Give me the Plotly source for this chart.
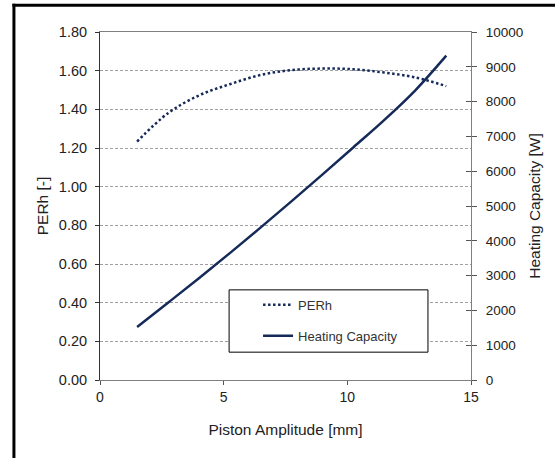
import plotly.graph_objects as go

# Data
amplitude_mm = [1.5, 2.75, 4.0, 5.25, 6.5, 7.75, 9.0, 10.25, 11.5, 12.75, 14.0]
perh = [1.233, 1.38, 1.472, 1.53, 1.578, 1.603, 1.611, 1.607, 1.59, 1.565, 1.52]
heating_w = [1520, 2220, 2925, 3645, 4385, 5140, 5910, 6690, 7475, 8325, 9320]

left_ticks = [0, 0.2, 0.4, 0.6, 0.8, 1.0, 1.2, 1.4, 1.6, 1.8]
right_ticks = [0, 1000, 2000, 3000, 4000, 5000, 6000, 7000, 8000, 9000, 10000]
right_labels = [str(v) for v in right_ticks]
x_ticks = [0, 5, 10, 15]

navy = "#152a58"
font = "Liberation Sans, Arial, sans-serif"

fig = go.Figure()
fig.add_trace(go.Scatter(
    x=amplitude_mm, y=perh, name="PERh", mode="lines",
    line=dict(color=navy, width=2.5, dash="2.5px,2.5px", shape="spline"),
    yaxis="y", legendgroup="a"))
fig.add_trace(go.Scatter(
    x=amplitude_mm, y=heating_w, name="Heating Capacity", mode="lines",
    line=dict(color=navy, width=2.5, shape="spline"),
    yaxis="y2", legendgroup="b"))
# dummy trace to activate yaxis3 (crossing ticks on the right axis)
fig.add_trace(go.Scatter(x=[None], y=[None], yaxis="y3", showlegend=False,
                         hoverinfo="skip"))

fig.update_layout(
    width=555, height=458,
    margin=dict(l=100, r=84, t=32, b=78, autoexpand=False),
    paper_bgcolor="white", plot_bgcolor="white",
    font=dict(family=font, size=13, color="#222"),
    showlegend=True,
    legend=dict(x=0.426, y=0.259, xanchor="left", yanchor="top",
                bgcolor="rgba(0,0,0,0)", borderwidth=0,
                font=dict(size=13, color="#333"),
                traceorder="grouped", tracegroupgap=11),
    xaxis=dict(range=[0, 15], tickvals=x_ticks, showgrid=False, zeroline=False,
               showline=True, linecolor="#7f7f7f", linewidth=1, mirror=True,
               ticks="outside", ticklen=4, tickcolor="#555",
               tickfont=dict(size=14),
               title=dict(text="Piston Amplitude [mm]", standoff=20,
                          font=dict(size=15.5))),
    yaxis=dict(range=[0, 1.8], tickvals=left_ticks, tickformat=".2f",
               showgrid=True, gridcolor="#a0a0a0", griddash="3px,2px", gridwidth=1,
               zeroline=False, showline=True, linecolor="#333", linewidth=1,
               ticks="outside", ticklen=4, tickcolor="#333",
               tickfont=dict(size=14.5), ticklabelstandoff=5,
               title=dict(text="PERh [-]", standoff=6, font=dict(size=15.5))),
    yaxis2=dict(range=[0, 10000], tickvals=right_ticks, ticktext=right_labels,
                overlaying="y", side="right",
                showgrid=False, zeroline=False, showline=True, linecolor="#7f7f7f",
                linewidth=1, ticks="outside", ticklen=5, tickcolor="#555",
                tickfont=dict(size=13.5), ticklabelstandoff=6,
                title=dict(text="Heating Capacity [W]", standoff=6,
                           font=dict(size=15.5))),
    yaxis3=dict(range=[0, 10000], tickvals=right_ticks, overlaying="y", side="right",
                anchor="x", showgrid=False, zeroline=False, showline=False,
                ticks="inside", ticklen=5, tickcolor="#555", showticklabels=False),
    shapes=[
        # legend box (white, covers gridlines)
        dict(type="rect", xref="paper", yref="paper",
             x0=0.348, x1=0.884, y0=0.08, y1=0.259,
             line=dict(color="black", width=1), fillcolor="white", layer="above"),
        # outer chart frame: left and top edges
        dict(type="line", xref="paper", yref="paper",
             x0=-0.232, x1=-0.232, y0=-0.3, y1=1.081,
             line=dict(color="black", width=3)),
        dict(type="line", xref="paper", yref="paper",
             x0=-0.236, x1=1.3, y0=1.077, y1=1.077,
             line=dict(color="black", width=3)),
    ],
)

fig.write_html("out.html", config={"displayModeBar": False},
               post_script="document.body.style.margin='0';document.body.style.overflow='hidden';")
